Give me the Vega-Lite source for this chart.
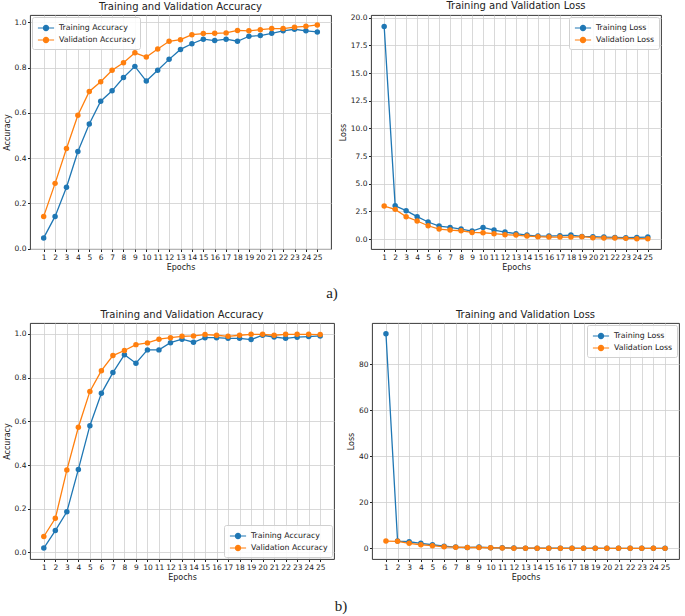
{
  "$schema": "https://vega.github.io/schema/vega-lite/v6.json",
  "padding": {"left": 2, "top": 0, "right": 2, "bottom": 2},
  "datasets": {
    "runs": [
      {"run": "a", "epoch": 1, "Training Accuracy": 0.047, "Validation Accuracy": 0.142, "Training Loss": 19.2, "Validation Loss": 2.98},
      {"run": "a", "epoch": 2, "Training Accuracy": 0.142, "Validation Accuracy": 0.288, "Training Loss": 3.01, "Validation Loss": 2.68},
      {"run": "a", "epoch": 3, "Training Accuracy": 0.271, "Validation Accuracy": 0.442, "Training Loss": 2.56, "Validation Loss": 2.02},
      {"run": "a", "epoch": 4, "Training Accuracy": 0.429, "Validation Accuracy": 0.589, "Training Loss": 2.02, "Validation Loss": 1.63},
      {"run": "a", "epoch": 5, "Training Accuracy": 0.55, "Validation Accuracy": 0.694, "Training Loss": 1.54, "Validation Loss": 1.2},
      {"run": "a", "epoch": 6, "Training Accuracy": 0.651, "Validation Accuracy": 0.737, "Training Loss": 1.17, "Validation Loss": 0.9},
      {"run": "a", "epoch": 7, "Training Accuracy": 0.697, "Validation Accuracy": 0.788, "Training Loss": 1.05, "Validation Loss": 0.81},
      {"run": "a", "epoch": 8, "Training Accuracy": 0.756, "Validation Accuracy": 0.821, "Training Loss": 0.9, "Validation Loss": 0.75},
      {"run": "a", "epoch": 9, "Training Accuracy": 0.805, "Validation Accuracy": 0.865, "Training Loss": 0.72, "Validation Loss": 0.6},
      {"run": "a", "epoch": 10, "Training Accuracy": 0.74, "Validation Accuracy": 0.846, "Training Loss": 1.05, "Validation Loss": 0.57},
      {"run": "a", "epoch": 11, "Training Accuracy": 0.788, "Validation Accuracy": 0.882, "Training Loss": 0.81, "Validation Loss": 0.48},
      {"run": "a", "epoch": 12, "Training Accuracy": 0.836, "Validation Accuracy": 0.916, "Training Loss": 0.63, "Validation Loss": 0.39},
      {"run": "a", "epoch": 13, "Training Accuracy": 0.88, "Validation Accuracy": 0.923, "Training Loss": 0.48, "Validation Loss": 0.36},
      {"run": "a", "epoch": 14, "Training Accuracy": 0.905, "Validation Accuracy": 0.945, "Training Loss": 0.36, "Validation Loss": 0.27},
      {"run": "a", "epoch": 15, "Training Accuracy": 0.925, "Validation Accuracy": 0.95, "Training Loss": 0.27, "Validation Loss": 0.21},
      {"run": "a", "epoch": 16, "Training Accuracy": 0.919, "Validation Accuracy": 0.951, "Training Loss": 0.27, "Validation Loss": 0.18},
      {"run": "a", "epoch": 17, "Training Accuracy": 0.925, "Validation Accuracy": 0.953, "Training Loss": 0.3, "Validation Loss": 0.18},
      {"run": "a", "epoch": 18, "Training Accuracy": 0.916, "Validation Accuracy": 0.964, "Training Loss": 0.36, "Validation Loss": 0.18},
      {"run": "a", "epoch": 19, "Training Accuracy": 0.938, "Validation Accuracy": 0.962, "Training Loss": 0.24, "Validation Loss": 0.21},
      {"run": "a", "epoch": 20, "Training Accuracy": 0.941, "Validation Accuracy": 0.967, "Training Loss": 0.21, "Validation Loss": 0.12},
      {"run": "a", "epoch": 21, "Training Accuracy": 0.951, "Validation Accuracy": 0.972, "Training Loss": 0.18, "Validation Loss": 0.09},
      {"run": "a", "epoch": 22, "Training Accuracy": 0.962, "Validation Accuracy": 0.972, "Training Loss": 0.15, "Validation Loss": 0.09},
      {"run": "a", "epoch": 23, "Training Accuracy": 0.969, "Validation Accuracy": 0.978, "Training Loss": 0.12, "Validation Loss": 0.06},
      {"run": "a", "epoch": 24, "Training Accuracy": 0.962, "Validation Accuracy": 0.982, "Training Loss": 0.15, "Validation Loss": 0.03},
      {"run": "a", "epoch": 25, "Training Accuracy": 0.957, "Validation Accuracy": 0.988, "Training Loss": 0.18, "Validation Loss": 0.03},
      {"run": "b", "epoch": 1, "Training Accuracy": 0.02, "Validation Accuracy": 0.073, "Training Loss": 93.3, "Validation Loss": 3.2},
      {"run": "b", "epoch": 2, "Training Accuracy": 0.1, "Validation Accuracy": 0.156, "Training Loss": 3.2, "Validation Loss": 3.1},
      {"run": "b", "epoch": 3, "Training Accuracy": 0.186, "Validation Accuracy": 0.377, "Training Loss": 2.9, "Validation Loss": 2.2},
      {"run": "b", "epoch": 4, "Training Accuracy": 0.38, "Validation Accuracy": 0.573, "Training Loss": 2.2, "Validation Loss": 1.6},
      {"run": "b", "epoch": 5, "Training Accuracy": 0.58, "Validation Accuracy": 0.737, "Training Loss": 1.6, "Validation Loss": 1.2},
      {"run": "b", "epoch": 6, "Training Accuracy": 0.728, "Validation Accuracy": 0.832, "Training Loss": 1.0, "Validation Loss": 0.7},
      {"run": "b", "epoch": 7, "Training Accuracy": 0.823, "Validation Accuracy": 0.901, "Training Loss": 0.6, "Validation Loss": 0.55},
      {"run": "b", "epoch": 8, "Training Accuracy": 0.905, "Validation Accuracy": 0.924, "Training Loss": 0.4, "Validation Loss": 0.4},
      {"run": "b", "epoch": 9, "Training Accuracy": 0.866, "Validation Accuracy": 0.951, "Training Loss": 0.6, "Validation Loss": 0.4},
      {"run": "b", "epoch": 10, "Training Accuracy": 0.927, "Validation Accuracy": 0.959, "Training Loss": 0.3, "Validation Loss": 0.3},
      {"run": "b", "epoch": 11, "Training Accuracy": 0.927, "Validation Accuracy": 0.976, "Training Loss": 0.3, "Validation Loss": 0.2},
      {"run": "b", "epoch": 12, "Training Accuracy": 0.96, "Validation Accuracy": 0.983, "Training Loss": 0.15, "Validation Loss": 0.12},
      {"run": "b", "epoch": 13, "Training Accuracy": 0.976, "Validation Accuracy": 0.989, "Training Loss": 0.1, "Validation Loss": 0.1},
      {"run": "b", "epoch": 14, "Training Accuracy": 0.962, "Validation Accuracy": 0.991, "Training Loss": 0.12, "Validation Loss": 0.08},
      {"run": "b", "epoch": 15, "Training Accuracy": 0.983, "Validation Accuracy": 0.997, "Training Loss": 0.08, "Validation Loss": 0.06},
      {"run": "b", "epoch": 16, "Training Accuracy": 0.983, "Validation Accuracy": 0.994, "Training Loss": 0.07, "Validation Loss": 0.06},
      {"run": "b", "epoch": 17, "Training Accuracy": 0.98, "Validation Accuracy": 0.989, "Training Loss": 0.07, "Validation Loss": 0.05},
      {"run": "b", "epoch": 18, "Training Accuracy": 0.98, "Validation Accuracy": 0.994, "Training Loss": 0.06, "Validation Loss": 0.05},
      {"run": "b", "epoch": 19, "Training Accuracy": 0.974, "Validation Accuracy": 0.998, "Training Loss": 0.07, "Validation Loss": 0.04},
      {"run": "b", "epoch": 20, "Training Accuracy": 0.994, "Validation Accuracy": 0.998, "Training Loss": 0.04, "Validation Loss": 0.03},
      {"run": "b", "epoch": 21, "Training Accuracy": 0.986, "Validation Accuracy": 0.994, "Training Loss": 0.05, "Validation Loss": 0.04},
      {"run": "b", "epoch": 22, "Training Accuracy": 0.98, "Validation Accuracy": 0.998, "Training Loss": 0.06, "Validation Loss": 0.03},
      {"run": "b", "epoch": 23, "Training Accuracy": 0.985, "Validation Accuracy": 0.998, "Training Loss": 0.05, "Validation Loss": 0.03},
      {"run": "b", "epoch": 24, "Training Accuracy": 0.988, "Validation Accuracy": 0.998, "Training Loss": 0.04, "Validation Loss": 0.03},
      {"run": "b", "epoch": 25, "Training Accuracy": 0.991, "Validation Accuracy": 0.997, "Training Loss": 0.03, "Validation Loss": 0.02}
    ]
  },
  "data": {"name": "runs"},
  "vconcat": [
    {
      "title": {"text": "a)", "orient": "bottom", "anchor": "middle", "font": "Liberation Serif", "fontSize": 15, "offset": 14},
      "spacing": 6,
      "hconcat": [
        {
          "width": 301, "height": 234,
          "title": "Training and Validation Accuracy",
          "transform": [{"filter": "datum.run === 'a'"}, {"fold": ["Training Accuracy", "Validation Accuracy"], "as": ["series", "value"]}],
          "mark": {"type": "line", "strokeWidth": 1.3, "point": {"filled": true, "size": 30}},
          "encoding": {
            "x": {"field": "epoch", "type": "quantitative", "scale": {"domain": [-0.2, 26.2], "nice": false, "zero": false}, "axis": {"values": [1,2,3,4,5,6,7,8,9,10,11,12,13,14,15,16,17,18,19,20,21,22,23,24,25], "title": "Epochs"}},
            "y": {"field": "value", "type": "quantitative", "scale": {"domain": [-0.002, 1.032], "nice": false, "zero": false}, "axis": {"values": [0, 0.2, 0.4, 0.6, 0.8, 1.0], "format": ".1f", "title": "Accuracy"}},
            "color": {"field": "series", "type": "nominal", "scale": {"domain": ["Training Accuracy", "Validation Accuracy"], "range": ["#1f77b4", "#ff7f0e"]}, "legend": {"orient": "top-left", "title": null}}
          }
        },
        {
          "width": 290, "height": 234,
          "title": "Training and Validation Loss",
          "transform": [{"filter": "datum.run === 'a'"}, {"fold": ["Training Loss", "Validation Loss"], "as": ["series", "value"]}],
          "mark": {"type": "line", "strokeWidth": 1.3, "point": {"filled": true, "size": 30}},
          "encoding": {
            "x": {"field": "epoch", "type": "quantitative", "scale": {"domain": [-0.2, 26.2], "nice": false, "zero": false}, "axis": {"values": [1,2,3,4,5,6,7,8,9,10,11,12,13,14,15,16,17,18,19,20,21,22,23,24,25], "title": "Epochs"}},
            "y": {"field": "value", "type": "quantitative", "scale": {"domain": [-0.9, 20.24], "nice": false, "zero": false}, "axis": {"values": [0, 2.5, 5, 7.5, 10, 12.5, 15, 17.5, 20], "format": ".1f", "title": "Loss"}},
            "color": {"field": "series", "type": "nominal", "scale": {"domain": ["Training Loss", "Validation Loss"], "range": ["#1f77b4", "#ff7f0e"]}, "legend": {"orient": "top-right", "title": null}}
          }
        }
      ],
      "resolve": {"scale": {"color": "independent", "y": "independent", "x": "independent"}, "legend": {"color": "independent"}}
    },
    {
      "title": {"text": "b)", "orient": "bottom", "anchor": "middle", "font": "Liberation Serif", "fontSize": 15, "offset": 17},
      "spacing": 12,
      "hconcat": [
        {
          "width": 304, "height": 236,
          "title": "Training and Validation Accuracy",
          "transform": [{"filter": "datum.run === 'b'"}, {"fold": ["Training Accuracy", "Validation Accuracy"], "as": ["series", "value"]}],
          "mark": {"type": "line", "strokeWidth": 1.3, "point": {"filled": true, "size": 30}},
          "encoding": {
            "x": {"field": "epoch", "type": "quantitative", "scale": {"domain": [-0.2, 26.2], "nice": false, "zero": false}, "axis": {"values": [1,2,3,4,5,6,7,8,9,10,11,12,13,14,15,16,17,18,19,20,21,22,23,24,25], "title": "Epochs"}},
            "y": {"field": "value", "type": "quantitative", "scale": {"domain": [-0.03, 1.05], "nice": false, "zero": false}, "axis": {"values": [0, 0.2, 0.4, 0.6, 0.8, 1.0], "format": ".1f", "title": "Accuracy"}},
            "color": {"field": "series", "type": "nominal", "scale": {"domain": ["Training Accuracy", "Validation Accuracy"], "range": ["#1f77b4", "#ff7f0e"]}, "legend": {"orient": "bottom-right", "title": null}}
          }
        },
        {
          "width": 307, "height": 236,
          "title": "Training and Validation Loss",
          "transform": [{"filter": "datum.run === 'b'"}, {"fold": ["Training Loss", "Validation Loss"], "as": ["series", "value"]}],
          "mark": {"type": "line", "strokeWidth": 1.3, "point": {"filled": true, "size": 30}},
          "encoding": {
            "x": {"field": "epoch", "type": "quantitative", "scale": {"domain": [-0.2, 26.2], "nice": false, "zero": false}, "axis": {"values": [1,2,3,4,5,6,7,8,9,10,11,12,13,14,15,16,17,18,19,20,21,22,23,24,25], "title": "Epochs"}},
            "y": {"field": "value", "type": "quantitative", "scale": {"domain": [-4.6, 98], "nice": false, "zero": false}, "axis": {"values": [0, 20, 40, 60, 80], "format": "d", "title": "Loss"}},
            "color": {"field": "series", "type": "nominal", "scale": {"domain": ["Training Loss", "Validation Loss"], "range": ["#1f77b4", "#ff7f0e"]}, "legend": {"orient": "top-right", "title": null}}
          }
        }
      ],
      "resolve": {"scale": {"color": "independent", "y": "independent", "x": "independent"}, "legend": {"color": "independent"}}
    }
  ],
  "spacing": 8,
  "resolve": {"scale": {"color": "independent", "y": "independent", "x": "independent"}, "legend": {"color": "independent"}},
  "config": {
    "font": "DejaVu Sans",
    "view": {"stroke": "#222", "strokeWidth": 0.9},
    "axis": {"domain": false, "grid": true, "gridColor": "#cfcfcf", "gridWidth": 0.8, "tickColor": "#222", "tickSize": 2.5, "labelFontSize": 7.5, "labelColor": "#222", "titleFontSize": 8, "titleFontWeight": "normal", "titleColor": "#222", "labelPadding": 1.5, "titlePadding": 3, "labelFlush": false, "labelOverlap": false},
    "title": {"fontSize": 10, "fontWeight": "normal", "color": "#222", "offset": 3},
    "legend": {"labelFontSize": 7.8, "labelColor": "#222", "symbolType": "M-1.35,0H1.35M0.43,0A0.43,0.43,0,1,1,-0.43,0A0.43,0.43,0,1,1,0.43,0", "symbolSize": 144, "symbolStrokeWidth": 1.2, "symbolOffset": 3, "strokeColor": "#d0d0d0", "fillColor": "rgba(255,255,255,0.85)", "cornerRadius": 2, "padding": 4, "rowPadding": 0, "offset": 2, "labelOffset": 6}
  }
}
